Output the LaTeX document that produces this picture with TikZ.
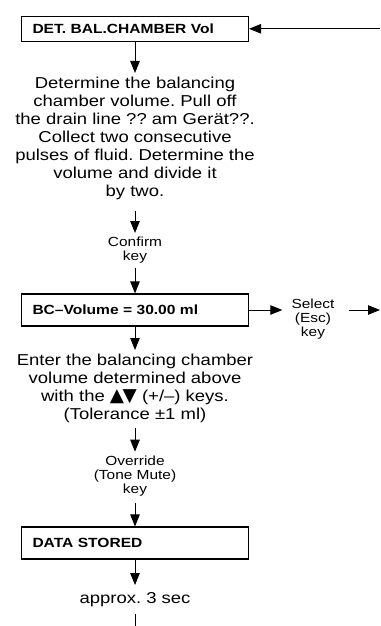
\documentclass[tikz,border=0pt]{standalone}
\usepackage{fontspec}
\setmainfont[FakeStretch=1.17]{Liberation Sans}
\newfontfamily\shapesfont{DejaVu Sans}
\usetikzlibrary{arrows.meta}
\frenchspacing

\newcommand{\updown}{{\shapesfont\fontsize{18.5}{18}\selectfont ▲\kern-1.5pt▼}}

\tikzset{
  screen/.style={draw, line width=1.2pt, minimum width=227pt, text width=205pt,
    inner xsep=11pt, minimum height=32pt, align=left,
    font=\bfseries\fontsize{13.3}{15}\selectfont},
  note/.style={align=center, inner xsep=0pt, inner ysep=4pt,
    font=\fontsize{15.8}{18}\selectfont},
  keylabel/.style={align=center, inner xsep=0pt, inner ysep=4pt,
    font=\fontsize{13.2}{14}\selectfont},
  flow/.style={-{Triangle[length=12pt,width=9.5pt]}, line width=0.9pt},
}

\begin{document}
\begin{tikzpicture}[x=1pt,y=-1pt]
  \useasboundingbox (0,0) rectangle (380,626);

  %--- screens ---
  \node[screen, minimum height=25pt] (detbox)    at (135,28.8) {DET. BAL.CHAMBER Vol};
  \node[screen]                      (bcbox)     at (135,310)  {BC–Volume = 30.00 ml};
  \node[screen]                      (storedbox) at (135,543)  {DATA STORED};

  %--- texts ---
  \node[note, anchor=north] (determine) at (135,73)
    {Determine the balancing\\chamber volume. Pull off\\the drain line ?? am Gerät??.\\Collect two consecutive\\pulses of fluid. Determine the\\volume and divide it\\by two.};
  \node[note, anchor=north] (enter) at (135,350)
    {Enter the balancing chamber\\volume determined above\\with the \updown{} (+/–) keys.\\(Tolerance ±1 ml)};
  \node[note, anchor=north, inner ysep=7pt] (approx) at (135,585) {approx. 3 sec};

  %--- keys ---
  \node[keylabel, anchor=north] (confirm)  at (135,233)   {Confirm\\key};
  \node[keylabel, anchor=north] (override) at (135,451.7) {Override\\(Tone Mute)\\key};
  \node[keylabel, anchor=north, inner sep=0pt] (select) at (313,298.5) {Select\\(Esc)\\key};

  %--- loose ends ---
  \coordinate (entry) at (380,28.8);
  \coordinate (exit)  at (380,310);
  \coordinate (down)  at (135,626);

  %--- flow ---
  \draw[flow] (entry) -- (detbox);
  \draw[flow] (detbox.south) -- (determine.north);
  \draw[flow, shorten <=7pt] (determine.south) -- (confirm.north);
  \draw[flow] (confirm.south) -- (bcbox.north);
  \draw[flow] (bcbox.south) -- (enter.north);
  \draw[flow, shorten <=1pt] (enter.south) -- (override.north);
  \draw[flow, shorten <=3pt] (override.south) -- (storedbox.north);
  \draw[flow] (storedbox.south) -- (approx.north);
  \draw[line width=0.9pt] (approx.south) -- (down);
  \draw[flow, shorten >=9pt] (bcbox.east) -- (bcbox.east -| select.west);
  \draw[flow, shorten <=14pt] (bcbox.east -| select.east) -- (exit);

\end{tikzpicture}
\end{document}
